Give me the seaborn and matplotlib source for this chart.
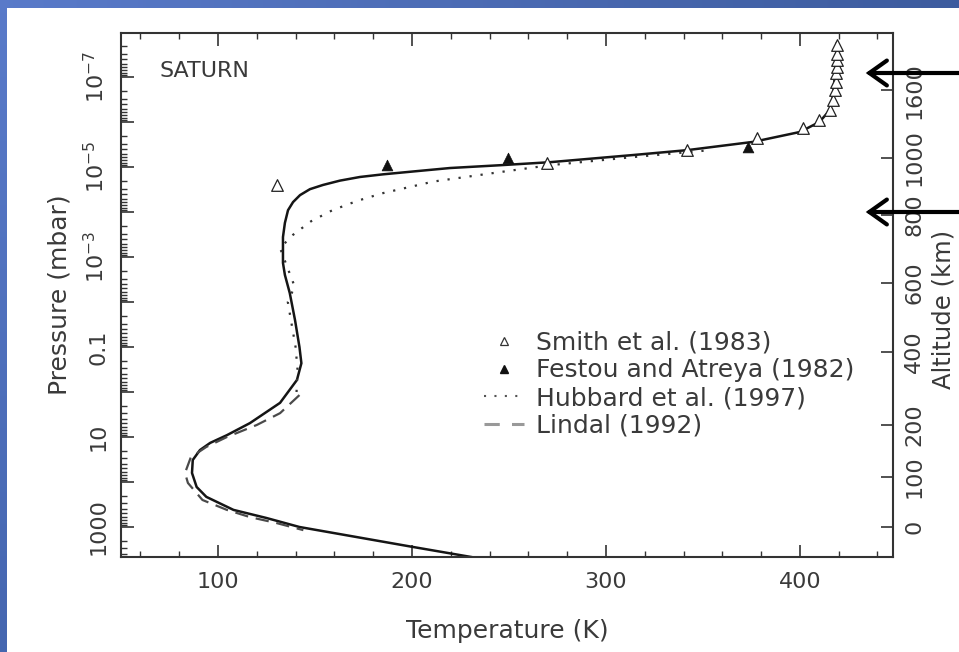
import numpy as np
import pandas as pd
import matplotlib
matplotlib.use("Agg")
import matplotlib.pyplot as plt
import matplotlib.ticker as mticker
from matplotlib.patches import FancyArrowPatch
from matplotlib.lines import Line2D
import seaborn as sns

# ---- Saturn temperature / pressure profiles (T in K, p in mbar) ----
model_T = [231, 200, 142, 125, 108, 94, 89, 86.6, 87, 90.7, 96, 104.6, 116.5, 132,
           140.7, 143, 142, 139.7, 137, 134.5, 133.5, 133.5, 134.5, 136.1, 138.7,
           142.3, 147.4, 154.1, 162.9, 173.2, 185.1, 202.6, 219.6, 245.4, 271, 314,
           342, 376, 400, 410, 415.5, 417, 418.6, 419]
model_p = [4680, 2754, 1000, 631, 417, 214, 129, 63, 32.4, 19.5, 13.5, 9.1, 4.9, 1.74,
           0.54, 0.229, 0.1, 0.025, 6.3e-3, 2.5e-3, 1.35e-3, 3.6e-4, 1.74e-4, 9.1e-5,
           6.0e-5, 4.2e-5, 3.1e-5, 2.5e-5, 2.0e-5, 1.66e-5, 1.45e-5, 1.23e-5,
           1.05e-5, 9.1e-6, 7.8e-6, 5.4e-6, 4.2e-6, 2.75e-6, 1.66e-6, 1.0e-6,
           5.4e-7, 2.75e-7, 5.0e-8, 1.74e-8]

lindal_T = [142, 132, 120, 104.6, 94, 86, 83, 84.5, 92, 104.6, 116.5, 130, 144]
lindal_p = [1.17, 2.95, 5.4, 10, 16.6, 28.2, 63, 105, 251, 417, 603, 813, 1175]

hubbard_T = [140.5, 141, 140, 138, 136, 139.5, 136, 132, 138.7, 148, 159, 172, 185,
             211, 245, 271, 314, 354]
hubbard_p = [1.0, 0.316, 0.1, 0.0316, 0.01, 4.5e-3, 1.8e-3, 6.3e-4, 3.2e-4, 1.6e-4,
             9.1e-5, 5.6e-5, 3.8e-5, 2.1e-5, 1.3e-5, 9.1e-6, 6.0e-6, 4.2e-6]

smith_T = [130.4, 269.6, 341.7, 378, 401.6, 410, 415.5, 417, 418, 418.5, 418.5,
           419, 419, 419, 419]
smith_p = [2.5e-5, 8.1e-6, 4.2e-6, 2.3e-6, 1.35e-6, 9.1e-7, 5.4e-7, 3.2e-7, 1.95e-7,
           1.3e-7, 8.1e-8, 6.0e-8, 4.2e-8, 3.0e-8, 1.95e-8]

festou_T = [187, 249.5, 373]
festou_p = [9.1e-6, 6.3e-6, 3.6e-6]

# ---- axis ticks ----
temp_ticks = [100, 200, 300, 400]
pressure_ticks = [1e-7, 1e-5, 1e-3, 0.1, 10, 1000]
pressure_labels = [r"$10^{-7}$", r"$10^{-5}$", r"$10^{-3}$", "0.1", "10", "1000"]
alt_labels = ["0", "100", "200", "400", "600", "800", "1000", "1600"]
alt_p = [1000, 78, 5.4, 0.13, 3.8e-3, 1.17e-4, 6.3e-6, 1.95e-7]

legend_labels = ["Smith et al. (1983)", "Festou and Atreya (1982)",
                 "Hubbard et al. (1997)", "Lindal (1992)"]

sns.set_theme(style="white")
plt.rcParams["font.family"] = ["DejaVu Sans"]
plt.rcParams["mathtext.fontset"] = "dejavusans"
TXT = "#3a3a3a"
TICK_FS = 16
LAB_FS = 18

fig = plt.figure(figsize=(9.59, 6.52), dpi=100)

# slide-style blue border on the left and top
H, W = 652, 959
bg = np.ones((H, W, 3))
c_left = np.array([0.35, 0.48, 0.79])
c_right = np.array([0.24, 0.36, 0.62])
c_bottom = np.array([0.27, 0.40, 0.69])
top_h, left_w = 8, 7
fx = np.linspace(0, 1, W)[:, None]
bg[:top_h, :, :] = (c_left * (1 - fx) + c_right * fx)[None, :, :]
fy = np.linspace(0, 1, H)[:, None]
bg[:, :left_w, :] = (c_left * (1 - fy) + c_bottom * fy)[:, None, :]
bax = fig.add_axes([0, 0, 1, 1], zorder=-10)
bax.imshow(bg, aspect="auto", interpolation="bilinear")
bax.axis("off")

ax = fig.add_axes([121 / 959, 1 - 557 / 652, (893 - 121) / 959, (557 - 33) / 652])
ax.set_facecolor("white")

# profiles
sns.lineplot(x=model_T, y=model_p, sort=False, estimator=None, ax=ax,
             color="#151515", lw=1.8)
sns.lineplot(x=hubbard_T, y=hubbard_p, sort=False, estimator=None, ax=ax,
             color="#333333", lw=1.6, linestyle=(0, (1, 4)))
sns.lineplot(x=lindal_T, y=lindal_p, sort=False, estimator=None, ax=ax,
             color="#4a4a4a", lw=1.6, linestyle=(0, (6, 3.5)))
sns.scatterplot(x=smith_T, y=smith_p, ax=ax, marker="^", s=70,
                facecolor="white", edgecolor="#222222", linewidth=0.9, zorder=5)
sns.scatterplot(x=festou_T, y=festou_p, ax=ax, marker="^", s=60,
                color="#111111", edgecolor="#111111", linewidth=0.5, zorder=5)

ax.set_yscale("log")
ax.set_xlim(50, 448)
ax.set_ylim(10 ** 3.667, 10 ** -7.98)

# x ticks
ax.xaxis.set_major_locator(mticker.FixedLocator(temp_ticks))
ax.xaxis.set_minor_locator(mticker.MultipleLocator(20))
ax.set_xticklabels([str(t) for t in temp_ticks])

# y ticks: every decade marked, alternate decades labelled
decades = 10.0 ** np.arange(-8, 4)
label_map = dict(zip(np.round(np.log10(pressure_ticks)).astype(int), pressure_labels))
ax.yaxis.set_major_locator(mticker.FixedLocator(decades))
ax.set_yticklabels([label_map.get(int(round(np.log10(d))), "") for d in decades])
ax.yaxis.set_minor_locator(mticker.LogLocator(base=10, subs=np.arange(2, 10), numticks=100))
ax.yaxis.set_minor_formatter(mticker.NullFormatter())

ax.tick_params(which="both", direction="in", top=True, right=False, bottom=True,
               left=True, colors="#333333", labelcolor=TXT, labelsize=TICK_FS)
ax.tick_params(which="major", length=9, width=1.2)
ax.tick_params(which="minor", length=4.5, width=1.0)
ax.tick_params(axis="x", which="major", pad=11)
ax.tick_params(axis="y", which="major", pad=9, labelrotation=90)
for lab in ax.get_yticklabels():
    lab.set_va("center")

for sp in ax.spines.values():
    sp.set_color("#333333")
    sp.set_linewidth(1.5)

ax.set_xlabel("Temperature (K)", fontsize=LAB_FS, color=TXT, labelpad=19)
ax.set_ylabel("Pressure (mbar)", fontsize=LAB_FS, color=TXT)
ax.yaxis.set_label_coords(-0.064, 0.5)

# altitude axis
ax2 = ax.twinx()
ax2.set_yscale("log")
ax2.set_ylim(ax.get_ylim())
ax2.yaxis.set_major_locator(mticker.FixedLocator(alt_p))
ax2.set_yticklabels(alt_labels)
ax2.yaxis.set_minor_locator(mticker.NullLocator())
ax2.tick_params(axis="y", direction="in", length=9, width=1.2, colors="#333333",
                labelcolor=TXT, labelsize=TICK_FS, labelrotation=90, pad=8)
for lab in ax2.get_yticklabels():
    lab.set_va("center")
for sp in ax2.spines.values():
    sp.set_visible(False)
ax2.set_ylabel("Altitude (km)", fontsize=17.5, color=TXT, rotation=90)
ax2.yaxis.set_label_coords(1.05, 0.473)

ax.text(0.05, 0.927, "SATURN", transform=ax.transAxes, fontsize=16, color=TXT,
        va="center", ha="left")

handles = [
    Line2D([], [], ls="none", marker="^", ms=6, mfc="white", mec="#333333", mew=0.9),
    Line2D([], [], ls="none", marker="^", ms=6, mfc="#111111", mec="#111111"),
    Line2D([], [], color="#555555", lw=1.5, ls=(0, (1, 4))),
    Line2D([], [], color="#999999", lw=2.2, ls=(0, (5, 4))),
]
leg = ax.legend(handles, legend_labels, loc="upper left", bbox_to_anchor=(0.47, 0.432),
                frameon=False, fontsize=18, handlelength=1.6, handletextpad=0.5,
                labelspacing=0.15, borderaxespad=0, borderpad=0)
for t in leg.get_texts():
    t.set_color(TXT)

# pointer arrows on the right edge
for y in (579, 440):
    fig.add_artist(FancyArrowPatch(
        (962, y), (863, y), transform=None,
        arrowstyle="->,head_length=0.45,head_width=0.32", mutation_scale=28,
        lw=3.0, color="black", capstyle="round", joinstyle="miter"))

fig.savefig("out.png", dpi=100)
